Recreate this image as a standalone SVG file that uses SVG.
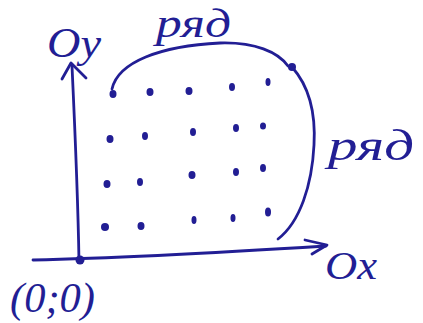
<svg xmlns="http://www.w3.org/2000/svg" width="423" height="323" viewBox="0 0 423 323">
<style>
.ink{stroke:#221e94;stroke-width:2.8;fill:none;stroke-linecap:round;stroke-linejoin:round}
.dot{fill:#221e94}
.lbl{font-family:"Liberation Serif",serif;font-style:italic;fill:#221e94}
</style>
<rect width="423" height="323" fill="#ffffff"/>
<g id="connectors">
  <path id="axis-y" class="ink" d="M79 262 C78 200 75 130 72 66"/>
  <path class="ink" d="M62 79 L71 63 L86 78"/>
  <path id="axis-x" class="ink" d="M33 260 C130 258 230 252 326 246"/>
  <path class="ink" d="M305 240 L327 245 L312 254"/>
  <path id="arc-top" class="ink" d="M112 89 C118 62 160 46 220 43 C255 42 278 52 288 66"/>
  <path id="arc-right" class="ink" d="M292 67 C308 85 316 110 314 145 C312 185 300 222 278 239"/>
</g>
<g id="origin">
  <circle class="dot" cx="80" cy="260" r="4.5"/>
  <text class="lbl" x="10" y="312" font-size="42" textLength="85" lengthAdjust="spacingAndGlyphs">(0;0)</text>
</g>
<g id="label-oy"><text class="lbl" x="47" y="57" font-size="42" textLength="54" lengthAdjust="spacingAndGlyphs">Oy</text></g>
<g id="label-ox"><text class="lbl" x="325" y="279" font-size="40" textLength="52" lengthAdjust="spacingAndGlyphs">Ox</text></g>
<g id="label-row-top"><text class="lbl" x="156" y="37" font-size="40" textLength="75" lengthAdjust="spacingAndGlyphs">ряд</text></g>
<g id="label-row-right"><text class="lbl" x="328" y="160" font-size="44" textLength="86" lengthAdjust="spacingAndGlyphs">ряд</text></g>
<g id="grid">
  <ellipse class="dot" cx="113" cy="94" rx="3.5" ry="4"/><ellipse class="dot" cx="150" cy="92" rx="3.5" ry="4"/><ellipse class="dot" cx="189" cy="91" rx="3.5" ry="4"/><ellipse class="dot" cx="232" cy="87" rx="3" ry="4"/><ellipse class="dot" cx="268" cy="82" rx="2.5" ry="4"/>
  <ellipse class="dot" cx="110" cy="139" rx="3.5" ry="4"/><ellipse class="dot" cx="145" cy="136" rx="3" ry="4"/><ellipse class="dot" cx="193" cy="132" rx="3" ry="4"/><ellipse class="dot" cx="236" cy="128" rx="3" ry="4"/><ellipse class="dot" cx="263" cy="126" rx="3" ry="3.5"/>
  <ellipse class="dot" cx="107" cy="184" rx="3.5" ry="4"/><ellipse class="dot" cx="140" cy="182" rx="3" ry="4"/><ellipse class="dot" cx="192" cy="175" rx="3.5" ry="4"/><ellipse class="dot" cx="236" cy="172" rx="3" ry="4"/><ellipse class="dot" cx="263" cy="168" rx="3" ry="4"/>
  <ellipse class="dot" cx="105" cy="227" rx="4" ry="4"/><ellipse class="dot" cx="141" cy="226" rx="3.5" ry="4"/><ellipse class="dot" cx="194" cy="220" rx="2.5" ry="4"/><ellipse class="dot" cx="233" cy="218" rx="2.5" ry="4"/><ellipse class="dot" cx="268" cy="212" rx="3" ry="4.5"/>
  <circle class="dot" cx="292" cy="67" r="4"/>
</g>
</svg>
